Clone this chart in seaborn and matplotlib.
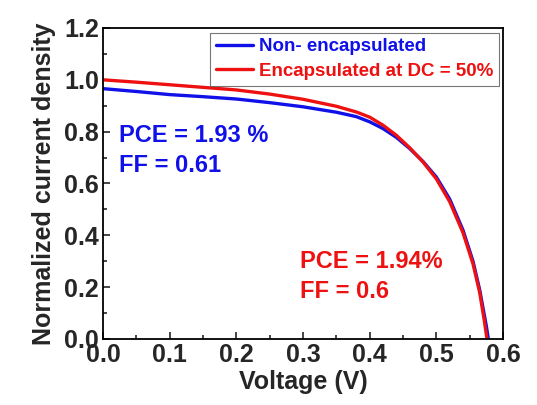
import numpy as np
import pandas as pd
import matplotlib
matplotlib.use("Agg")
import matplotlib.pyplot as plt
from matplotlib.ticker import MultipleLocator
import seaborn as sns

# J-V curves (normalized current density vs voltage)
voltage_blue = [0.0, 0.05, 0.1, 0.15, 0.2, 0.25, 0.3, 0.35, 0.38, 0.4, 0.42, 0.44,
                0.46, 0.48, 0.5, 0.52, 0.54, 0.555, 0.565, 0.575, 0.578]
current_blue = [0.966, 0.955, 0.943, 0.935, 0.926, 0.912, 0.896, 0.875, 0.858, 0.838,
                0.812, 0.778, 0.735, 0.685, 0.625, 0.54, 0.42, 0.30, 0.19, 0.05, 0.0]
voltage_red = [0.0, 0.05, 0.1, 0.15, 0.2, 0.25, 0.3, 0.35, 0.38, 0.4, 0.42, 0.44,
               0.46, 0.48, 0.5, 0.52, 0.54, 0.555, 0.565, 0.572, 0.576]
current_red = [1.0, 0.991, 0.981, 0.971, 0.961, 0.945, 0.925, 0.898, 0.876, 0.856,
               0.825, 0.786, 0.738, 0.683, 0.618, 0.53, 0.41, 0.29, 0.18, 0.07, 0.0]
labels = ["Non- encapsulated", "Encapsulated at DC = 50%"]
colors = ["#1010e8", "#ee1111"]

sns.set_style("ticks")
plt.rcParams["font.family"] = ["Liberation Sans", "DejaVu Sans"]
plt.rcParams["font.weight"] = "bold"

fig = plt.figure(figsize=(5.37, 4.05), dpi=100)
ax = fig.add_axes([103 / 537, 1 - 339 / 405, 400 / 537, 311 / 405])

df_b = pd.DataFrame({"V": voltage_blue, "J": current_blue})
df_r = pd.DataFrame({"V": voltage_red, "J": current_red})
sns.lineplot(data=df_b, x="V", y="J", ax=ax, color=colors[0], lw=2.4,
             label=labels[0], sort=False)
sns.lineplot(data=df_r, x="V", y="J", ax=ax, color=colors[1], lw=2.4,
             label=labels[1], sort=False)

ax.set_xlim(0, 0.6)
ax.set_ylim(0, 1.2)
ax.xaxis.set_major_locator(MultipleLocator(0.1))
ax.xaxis.set_minor_locator(MultipleLocator(0.05))
ax.yaxis.set_major_locator(MultipleLocator(0.2))
ax.yaxis.set_minor_locator(MultipleLocator(0.1))
ax.tick_params(which="both", direction="in", top=False, right=False, width=1.2)
ax.tick_params(which="major", length=5, labelsize=18, pad=3)
ax.tick_params(which="minor", length=3)
ax.xaxis.set_major_formatter(matplotlib.ticker.FormatStrFormatter("%.1f"))
ax.yaxis.set_major_formatter(matplotlib.ticker.FormatStrFormatter("%.1f"))
for lab in ax.get_xticklabels() + ax.get_yticklabels():
    lab.set_fontweight("bold")
for s in ax.spines.values():
    s.set_linewidth(1.3)
    s.set_color("black")

ax.set_xlabel("Voltage (V)", fontsize=18, fontweight="bold", labelpad=2)
ax.set_ylabel("Normalized current density", fontsize=18, fontweight="bold", labelpad=6)

leg = ax.legend(loc="upper right", bbox_to_anchor=(0.99, 0.985), borderaxespad=0,
                frameon=True, fancybox=False, handlelength=2.0, handletextpad=0.3,
                borderpad=0.3, labelspacing=0.4, prop={"size": 13.5, "weight": "bold"})
leg.get_frame().set_edgecolor("#555555")
leg.get_frame().set_linewidth(0.8)
for t, c in zip(leg.get_texts(), colors):
    t.set_color(c)

ax.text(0.024, 0.76, "PCE = 1.93 %", color=colors[0], fontsize=17, fontweight="bold")
ax.text(0.024, 0.645, "FF = 0.61", color=colors[0], fontsize=17, fontweight="bold")
ax.text(0.2955, 0.274, "PCE = 1.94%", color=colors[1], fontsize=17, fontweight="bold")
ax.text(0.2955, 0.158, "FF = 0.6", color=colors[1], fontsize=17, fontweight="bold")

fig.savefig("out.png", dpi=100)
